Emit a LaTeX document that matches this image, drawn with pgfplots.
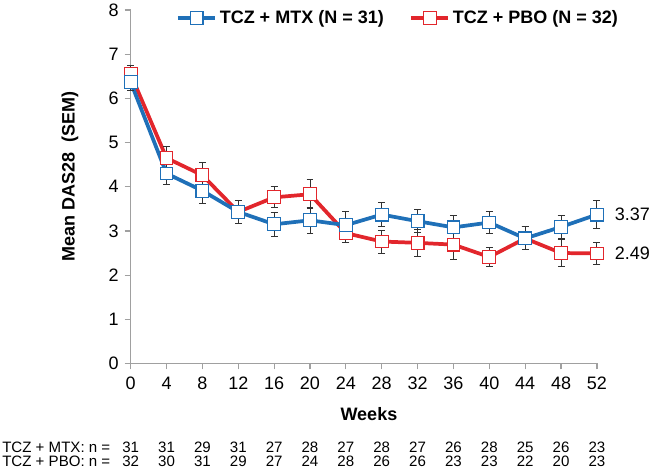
\documentclass[border=0pt]{standalone}
\usepackage{pgfplots}
\pgfplotsset{compat=1.18}
\usepackage{fontspec}
\setmainfont{Liberation Sans}
\definecolor{mtx}{RGB}{31,112,184}
\definecolor{pbo}{RGB}{226,38,44}
\definecolor{axgray}{RGB}{160,160,160}
\definecolor{errc}{RGB}{50,50,50}
\newcommand\nval[3]{%
  \node[font=\fontsize{11.3pt}{12pt}\selectfont, anchor=base] at (axis cs:#1,0) [yshift=-67.1pt] {#2};
  \node[font=\fontsize{11.3pt}{12pt}\selectfont, anchor=base] at (axis cs:#1,0) [yshift=-77.6pt] {#3};}
\begin{document}
\begin{tikzpicture}
\useasboundingbox (-98.0pt,-82.9pt) rectangle (389.5pt,272.6pt);
\begin{axis}[
  scale only axis,
  width=349.7pt, height=265.1pt,
  xmin=0, xmax=52, ymin=0, ymax=8,
  xtick={0,4,...,52}, ytick={0,1,...,8},
  axis x line=bottom, axis y line=left,
  axis line style={-, axgray, line width=0.9pt},
  tick style={axgray, line width=0.9pt},
  tick align=outside, major tick length=4.5pt,
  /pgf/number format/assume math mode=true,
  ticklabel style={font=\fontsize{13.5pt}{16pt}\selectfont, black},
  xticklabel style={yshift=-2pt},
  yticklabel style={xshift=-1pt},
  xlabel={\textbf{Weeks}},
  ylabel={\textbf{Mean DAS28\ \ (SEM)}},
  xlabel style={font=\fontsize{13.5pt}{16pt}\selectfont, at={(axis description cs:0.511,-0.142)}, anchor=center},
  ylabel style={font=\fontsize{13.5pt}{16pt}\selectfont, at={(axis description cs:-0.13,0.528)}, anchor=center},
  clip=false,
  legend columns=2,
  legend style={draw=none, fill=none, at={(rel axis cs:0.574,0.977)}, anchor=center,
    font=\bfseries\fontsize{13.5pt}{16pt}\selectfont,
    /tikz/every even column/.append style={column sep=17pt}},
  legend image code/.code={\draw[mark repeat=2, mark phase=2, #1] plot coordinates {(0pt,0pt) (14pt,0pt) (28pt,0pt)};},
  error bars/error bar style={line width=0.7pt, errc},
  error bars/error mark options={rotate=90, mark size=2.6pt, line width=0.7pt, errc},
]
\addlegendimage{mtx, line width=2.8pt, mark=square*, mark size=4.8pt, mark options={fill=white, line width=0.8pt, draw=mtx}}
\addlegendentry{TCZ + MTX (N = 31)}
\addlegendimage{pbo, line width=2.8pt, mark=square*, mark size=4.8pt, mark options={fill=white, line width=0.8pt, draw=pbo}}
\addlegendentry{TCZ + PBO (N = 32)}

\addplot[forget plot, pbo, line width=2.8pt, mark=square*, mark size=4.8pt,
  mark options={fill=white, line width=0.8pt, draw=pbo},
  error bars/.cd, y dir=both, y explicit]
  table[x=w, y=m, y error=e] {
w m e
0 6.55 0.20
4 4.65 0.27
8 4.26 0.28
12 3.43 0.26
16 3.76 0.24
20 3.83 0.33
24 2.95 0.22
28 2.76 0.26
32 2.73 0.30
36 2.69 0.33
40 2.41 0.22
44 2.83 0.26
48 2.50 0.30
52 2.49 0.25
};
\addplot[forget plot, mtx, line width=2.8pt, mark=square*, mark size=4.8pt,
  mark options={fill=white, line width=0.8pt, draw=mtx},
  error bars/.cd, y dir=both, y explicit]
  table[x=w, y=m, y error=e] {
w m e
0 6.37 0.20
4 4.30 0.24
8 3.91 0.29
12 3.43 0.26
16 3.15 0.27
20 3.24 0.30
24 3.13 0.30
28 3.37 0.27
32 3.22 0.26
36 3.08 0.28
40 3.19 0.24
44 2.83 0.26
48 3.09 0.27
52 3.37 0.31
};
\node[anchor=west, font=\fontsize{13.5pt}{16pt}\selectfont] at (axis cs:52,3.37) [xshift=10pt] {3.37};
\node[anchor=west, font=\fontsize{13.5pt}{16pt}\selectfont] at (axis cs:52,2.49) [xshift=10pt] {2.49};
\node[font=\fontsize{11.3pt}{12pt}\selectfont, anchor=base west, inner sep=0pt] at (axis cs:-14.35,0) [yshift=-67.1pt] {TCZ + MTX: n =};
\node[font=\fontsize{11.3pt}{12pt}\selectfont, anchor=base west, inner sep=0pt] at (axis cs:-14.35,0) [yshift=-77.6pt] {TCZ + PBO: n =};
\nval{0}{31}{32}
\nval{4}{31}{30}
\nval{8}{29}{31}
\nval{12}{31}{29}
\nval{16}{27}{27}
\nval{20}{28}{24}
\nval{24}{27}{28}
\nval{28}{28}{26}
\nval{32}{27}{26}
\nval{36}{26}{23}
\nval{40}{28}{23}
\nval{44}{25}{22}
\nval{48}{26}{20}
\nval{52}{23}{23}
\end{axis}
\end{tikzpicture}
\end{document}
